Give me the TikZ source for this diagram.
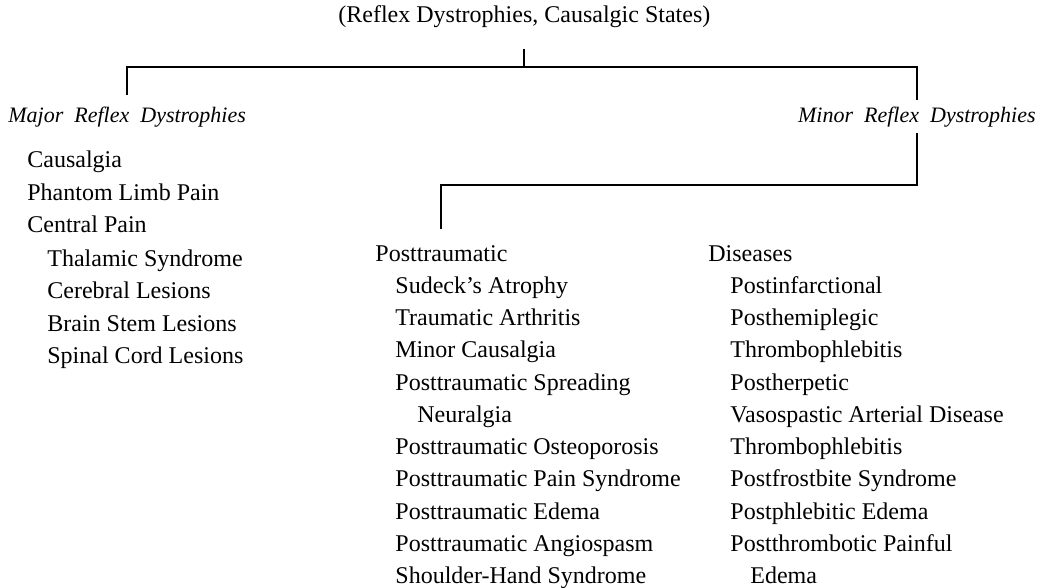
\documentclass[tikz,border=0pt]{standalone}
\usepackage{fontspec}
\setmainfont{Liberation Serif}
\begin{document}
\begin{tikzpicture}[x=0.5pt, y=-0.5pt]
		\tikzset{it/.style={anchor=base west, inner sep=0pt, font=\fontsize{12}{14}\selectfont}};
		\tikzset{hd/.style={it, font=\fontsize{11}{13}\selectfont\itshape}};
		\tikzset{ln/.style={line width=1pt}};

		\useasboundingbox (0, 0) rectangle (1048, 588);

		\node[it] (t) at (338, 23) {(Reflex Dystrophies, Causalgic States)};
		\node[hd] (maj) at (8, 123) {Major\ \ Reflex\ \ Dystrophies};
		\node[hd, anchor=base east] (mnr) at (1036, 123) {Minor\ \ Reflex\ \ Dystrophies};

		\node[it] (c1) at (27, 168) {Causalgia};
		\node[it] (c2) at (27, 200.5) {Phantom Limb Pain};
		\node[it] (c3) at (27, 233) {Central Pain};
		\node[it] (c4) at (47, 266) {Thalamic Syndrome};
		\node[it] (c5) at (47, 298) {Cerebral Lesions};
		\node[it] (c6) at (47, 331) {Brain Stem Lesions};
		\node[it] (c7) at (47, 363) {Spinal Cord Lesions};

		\node[it] (p0) at (375, 261) {Posttraumatic};
		\node[it] (p1) at (395, 293) {Sudeck's Atrophy};
		\node[it] (p2) at (395, 325.5) {Traumatic Arthritis};
		\node[it] (p3) at (395, 357.5) {Minor Causalgia};
		\node[it] (p4) at (395, 390) {Posttraumatic Spreading};
		\node[it] (p5) at (417, 422) {Neuralgia};
		\node[it] (p6) at (395, 454.5) {Posttraumatic Osteoporosis};
		\node[it] (p7) at (395, 486.5) {Posttraumatic Pain Syndrome};
		\node[it] (p8) at (395, 519) {Posttraumatic Edema};
		\node[it] (p9) at (395, 551) {Posttraumatic Angiospasm};
		\node[it] (p10) at (395, 583) {Shoulder-Hand Syndrome};

		\node[it] (d0) at (708, 261) {Diseases};
		\node[it] (d1) at (730, 293) {Postinfarctional};
		\node[it] (d2) at (730, 325.5) {Posthemiplegic};
		\node[it] (d3) at (730, 357.5) {Thrombophlebitis};
		\node[it] (d4) at (730, 390) {Postherpetic};
		\node[it] (d5) at (730, 422) {Vasospastic Arterial Disease};
		\node[it] (d6) at (730, 454.5) {Thrombophlebitis};
		\node[it] (d7) at (730, 486.5) {Postfrostbite Syndrome};
		\node[it] (d8) at (730, 519) {Postphlebitic Edema};
		\node[it] (d9) at (730, 551) {Postthrombotic Painful};
		\node[it] (d10) at (750, 583) {Edema};

		\coordinate (b1) at (0, 67);
		\coordinate (b2) at (0, 185);

		\draw[ln, shorten <=10pt] (t.south) -- (t.south |- b1);
		\draw[ln, shorten <=6pt, shorten >=3.5pt] (maj.north) -- (maj.north |- b1) -- (mnr.north |- b1) -- (mnr.north);
		\draw[ln, shorten <=2.5pt, shorten >=8pt] (mnr.south) -- (mnr.south |- b2) -- (p0.north |- b2) -- (p0.north);
	\end{tikzpicture}
\end{document}
